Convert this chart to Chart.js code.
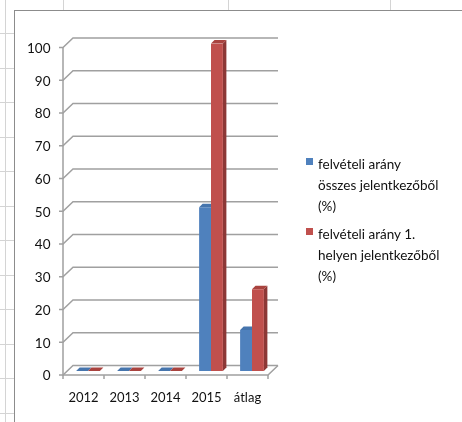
<!DOCTYPE html>
<html>
<head>
<meta charset="utf-8">
<script src="https://cdn.jsdelivr.net/npm/chart.js@4.4.1/dist/chart.umd.min.js"></script>
<style>
  html, body { margin: 0; padding: 0; }
  body { width: 462px; height: 422px; overflow: hidden; position: relative; background: #fff; font-family: Lato, "Noto Sans", sans-serif; }
  .sheet-v { position: absolute; top: 0; width: 1px; height: 422px; background: #d4d4d4; }
  .sheet-h { position: absolute; left: 0; width: 14px; height: 1px; background: #d4d4d4; }
  #frame { position: absolute; left: 14px; top: 10px; width: 460px; height: 420px; background: #fff; border-left: 1px solid #8c8c8c; border-top: 1px solid #8c8c8c; }
  #chart { position: absolute; left: 0; top: 0; }
  #legend { position: absolute; left: 306px; top: 154px; font-size: 13.5px; color: #111; }
  .item { position: relative; padding-left: 12px; margin-bottom: 7px; line-height: 21px; }
  .item .box { position: absolute; left: 0; top: 4px; width: 7px; height: 7px; }
</style>
</head>
<body>
<div class="sheet-v" style="left:5px"></div>
<div class="sheet-v" style="left:63px"></div>
<div class="sheet-v" style="left:228px"></div>
<div class="sheet-v" style="left:390px"></div>
<div id="rows"></div>
<div id="frame"></div>
<canvas id="chart" width="462" height="422"></canvas>
<div id="legend"></div>
<script>
const categories = ['2012', '2013', '2014', '2015', 'átlag'];
const osszesArany = [0, 0, 0, 50, 12.5];
const elsoHelyArany = [0, 0, 0, 100, 25];
const seriesLabels = [
  ['felvételi arány', 'összes jelentkezőből', '(%)'],
  ['felvételi arány 1.', 'helyen jelentkezőből', '(%)']
];
const frontColors = ['#4f81bd', '#c0504d'];
const sideColors = ['#385d8a', '#8c3836'];
const topColors = ['#4675ad', '#a9433f'];

// worksheet row lines on the left edge
const rows = document.getElementById('rows');
for (let y = 33; y < 422; y += 34.5) {
  const d = document.createElement('div');
  d.className = 'sheet-h';
  d.style.top = Math.round(y) + 'px';
  rows.appendChild(d);
}

// the bars sit on a middle plane; front axis and back wall are shifted from it
const FRONT = { dx: -4.5, dy: 4 };
const BACK = { dx: 5.5, dy: -5.5 };
const DEPTH = 3.5;

const box3d = {
  id: 'box3d',
  beforeDatasetsDraw(chart) {
    const { ctx, chartArea: a, scales: { x, y } } = chart;
    ctx.save();
    ctx.strokeStyle = '#a0a0a0';
    ctx.lineWidth = 1.5;

    // back wall gridlines with their diagonal link to the front axis
    y.ticks.forEach(t => {
      const py = y.getPixelForValue(t.value);
      ctx.beginPath();
      ctx.moveTo(a.left + FRONT.dx - 4, py + FRONT.dy);
      ctx.lineTo(a.left + FRONT.dx, py + FRONT.dy);
      ctx.lineTo(a.left + BACK.dx, py + BACK.dy);
      ctx.lineTo(a.right + BACK.dx, py + BACK.dy);
      ctx.stroke();
    });

    // front value axis and floor edge
    const top = y.getPixelForValue(y.max);
    const bot = y.getPixelForValue(y.min);
    ctx.beginPath();
    ctx.moveTo(a.left + FRONT.dx, top + FRONT.dy);
    ctx.lineTo(a.left + FRONT.dx, bot + FRONT.dy);
    ctx.lineTo(a.right + FRONT.dx, bot + FRONT.dy);
    ctx.lineTo(a.right + BACK.dx, bot + BACK.dy);
    ctx.stroke();

    // category tick marks under the floor
    for (let i = 0; i <= categories.length; i++) {
      const px = x.getPixelForValue(i - 0.5) + FRONT.dx;
      ctx.beginPath();
      ctx.moveTo(px, bot + FRONT.dy);
      ctx.lineTo(px, bot + FRONT.dy + 4);
      ctx.stroke();
    }

    // side and top faces of the columns
    chart.data.datasets.forEach((ds, di) => {
      chart.getDatasetMeta(di).data.forEach(bar => {
        const l = bar.x - bar.width / 2, r = bar.x + bar.width / 2;
        const t = bar.y, b = bar.base;
        ctx.fillStyle = sideColors[di];
        ctx.beginPath();
        ctx.moveTo(r, b);
        ctx.lineTo(r + DEPTH, b - DEPTH);
        ctx.lineTo(r + DEPTH, t - DEPTH);
        ctx.lineTo(r, t);
        ctx.closePath();
        ctx.fill();
        ctx.fillStyle = topColors[di];
        ctx.beginPath();
        ctx.moveTo(l, t);
        ctx.lineTo(l + DEPTH, t - DEPTH);
        ctx.lineTo(r + DEPTH, t - DEPTH);
        ctx.lineTo(r, t);
        ctx.closePath();
        ctx.fill();
      });
    });
    ctx.restore();
  }
};

const chart = new Chart(document.getElementById('chart'), {
  type: 'bar',
  data: {
    labels: categories,
    datasets: [
      { label: seriesLabels[0].join(' '), data: osszesArany, backgroundColor: frontColors[0] },
      { label: seriesLabels[1].join(' '), data: elsoHelyArany, backgroundColor: frontColors[1] }
    ]
  },
  options: {
    responsive: false,
    animation: false,
    devicePixelRatio: 1,
    layout: { padding: { left: 0, right: 189.5, top: 43.5, bottom: 0 } },
    datasets: { bar: { categoryPercentage: 0.58, barPercentage: 1 } },
    plugins: { legend: { display: false }, tooltip: { enabled: false } },
    scales: {
      x: {
        grid: { display: false, drawTicks: false },
        border: { display: false },
        ticks: { color: '#111', font: { family: 'Lato', size: 13 }, padding: 19, labelOffset: -4.5 },
        afterFit(scale) { scale.height = 51; }
      },
      y: {
        min: 0,
        max: 100,
        grid: { display: false, drawTicks: false },
        border: { display: false },
        ticks: { stepSize: 10, color: '#111', font: { family: 'Lato', size: 13.5 }, padding: 17, labelOffset: 5 },
        afterFit(scale) { scale.width = 67.5; }
      }
    }
  },
  plugins: [box3d]
});

// legend with the same line breaks as the series names
const legend = document.getElementById('legend');
seriesLabels.forEach((lines, i) => {
  const item = document.createElement('div');
  item.className = 'item';
  item.innerHTML = '<span class="box" style="background:' + frontColors[i] + '"></span>' + lines.join('<br>');
  legend.appendChild(item);
});
</script>
</body>
</html>
